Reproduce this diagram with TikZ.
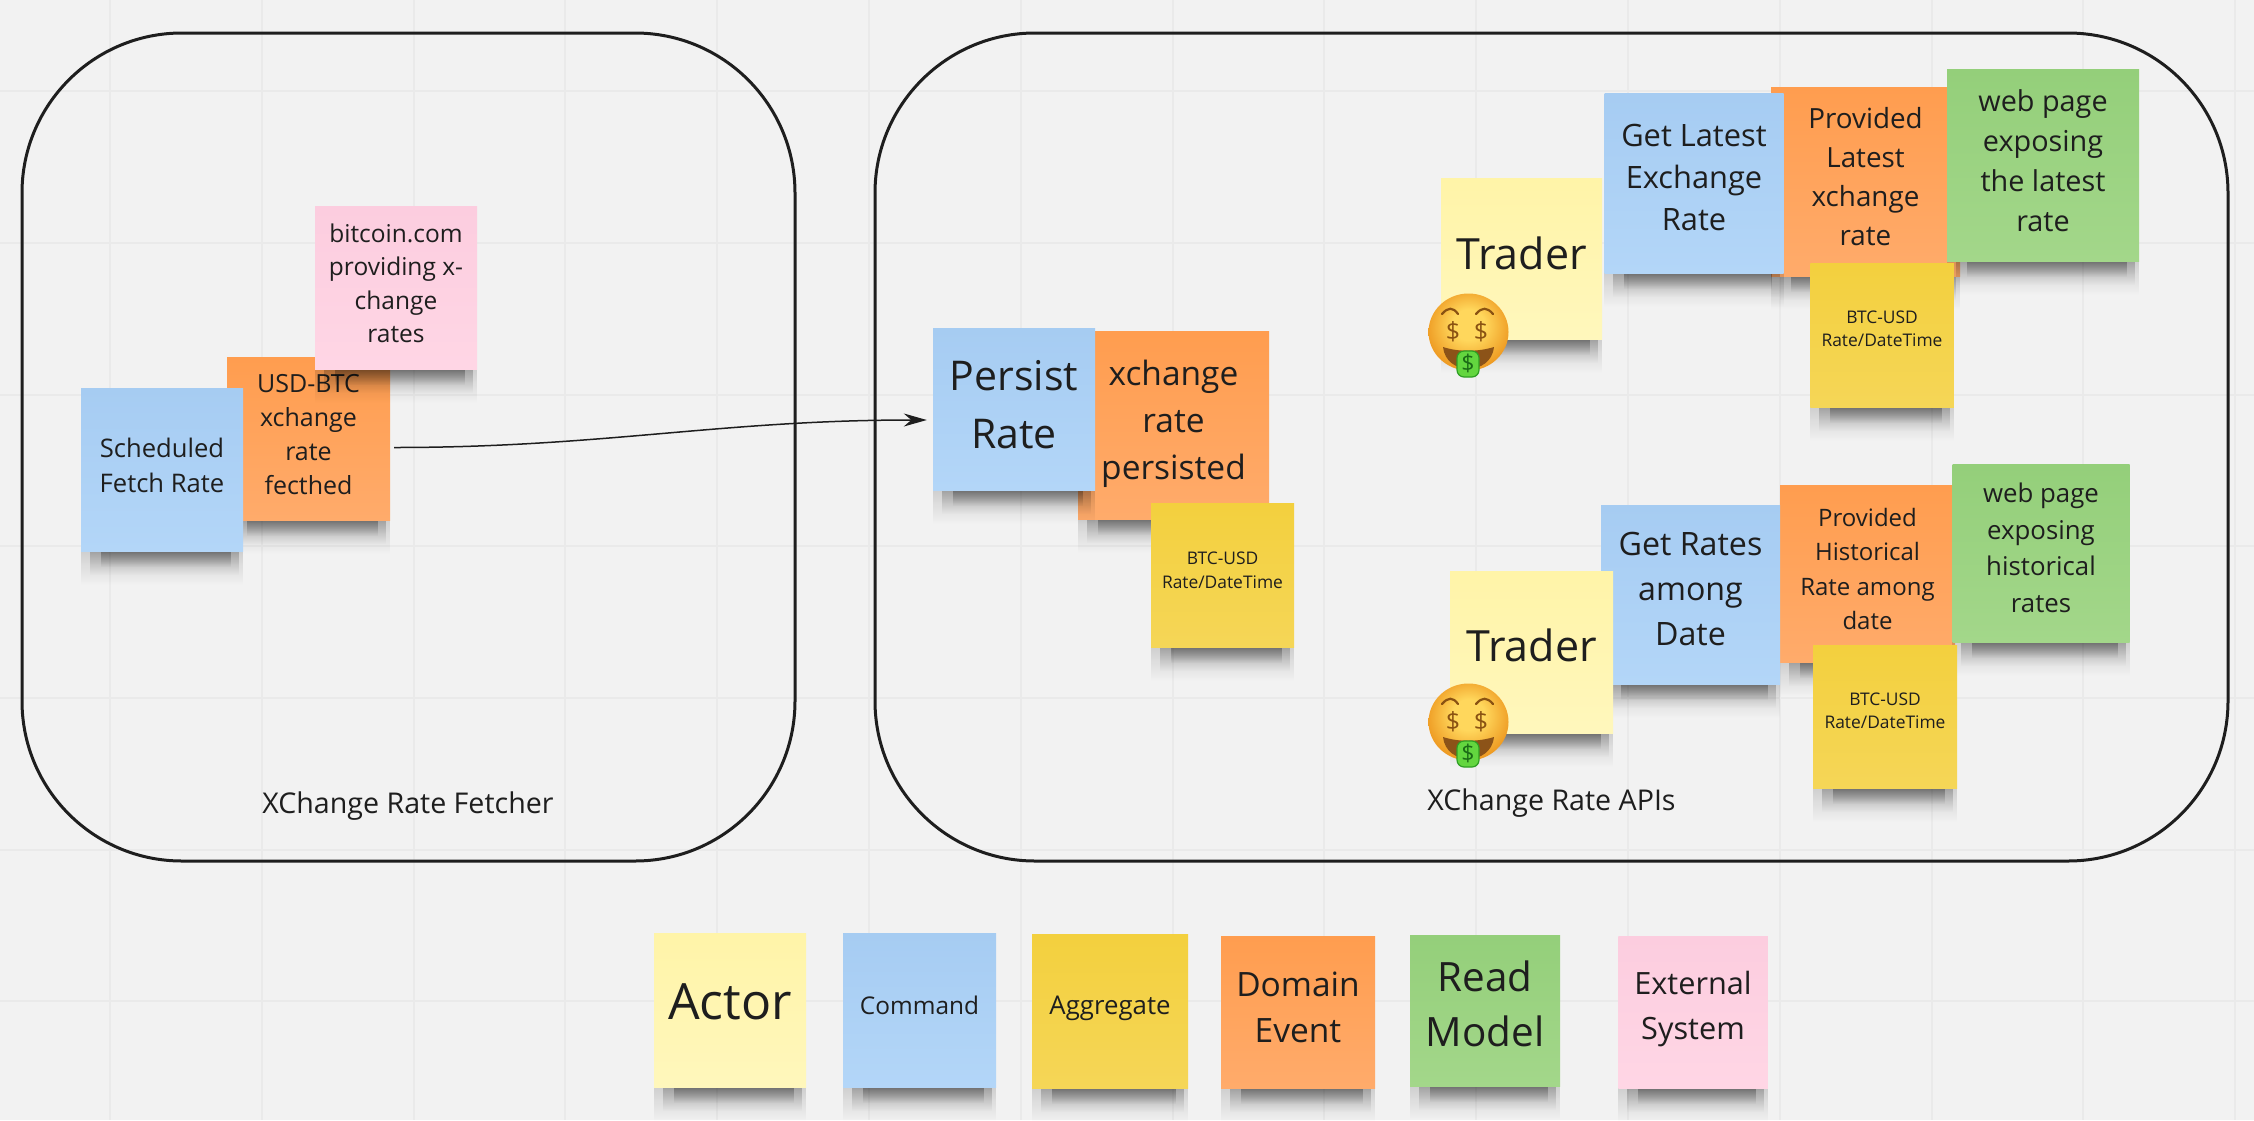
\documentclass[tikz,border=0pt]{standalone}
\usepackage{fontspec}
\setmainfont{Open Sans}
\usetikzlibrary{fadings,arrows.meta}
\definecolor{boardbg}{HTML}{F2F2F2}
\definecolor{boardgrid}{HTML}{EAEAEA}
\definecolor{inkdark}{HTML}{1E1E1E}
\definecolor{actorTop}{HTML}{FFF4A8}
\definecolor{actorBot}{HTML}{FFF7BC}
\definecolor{commandTop}{HTML}{A6CCF2}
\definecolor{commandBot}{HTML}{B3D6F8}
\definecolor{storeTop}{HTML}{F3D03E}
\definecolor{storeBot}{HTML}{F5D657}
\definecolor{eventTop}{HTML}{FF9D4F}
\definecolor{eventBot}{HTML}{FFAB6B}
\definecolor{modelTop}{HTML}{94CF7A}
\definecolor{modelBot}{HTML}{A3D78A}
\definecolor{externalTop}{HTML}{FCCDDF}
\definecolor{externalBot}{HTML}{FFD6E5}
\definecolor{faceLight}{HTML}{FFD75C}
\definecolor{faceDark}{HTML}{EE9A22}
\definecolor{faceInk}{HTML}{8A5212}
\definecolor{mouthInk}{HTML}{8C5318}
\definecolor{tongueFill}{HTML}{63D63F}
\definecolor{tongueEdge}{HTML}{2F9E24}
\definecolor{tongueInk}{HTML}{1B6B16}
\pgfdeclareradialshading{moneyskin}{\pgfpoint{0bp}{6bp}}{color(0bp)=(faceLight);color(10bp)=(faceLight);color(27bp)=(faceDark);color(50bp)=(faceDark)}
\tikzset{
	sheet/.style 2 args={minimum width=#1,minimum height=#2},
	fs/.style n args={3}{font=\fontsize{#1}{#2}\selectfont,text depth=#3pt},
	sticky/.style={align=center,text=inkdark,inner sep=0pt,
		append after command={\pgfextra{\let\lastsheet\tikzlastnode
			\fill[black,opacity=0.14,path fading=south] (\lastsheet.south west) rectangle ([yshift=-34pt]\lastsheet.south east);
			\fill[black,opacity=0.22,path fading=south] ([xshift=9pt]\lastsheet.south west) rectangle ([xshift=-4pt,yshift=-24pt]\lastsheet.south east);
			\fill[black,opacity=0.3,path fading=south] ([xshift=20pt]\lastsheet.south west) rectangle ([xshift=-12pt,yshift=-16pt]\lastsheet.south east);
		}}},
	actor/.style={sticky,top color=actorTop,bottom color=actorBot},
	command/.style={sticky,top color=commandTop,bottom color=commandBot},
	store/.style={sticky,top color=storeTop,bottom color=storeBot},
	event/.style={sticky,top color=eventTop,bottom color=eventBot},
	model/.style={sticky,top color=modelTop,bottom color=modelBot},
	external/.style={sticky,top color=externalTop,bottom color=externalBot},
	context/.style={draw=inkdark,line width=3pt,rounded corners=160pt},
	contextname/.style={font=\fontsize{28.6}{36}\selectfont,text=inkdark},
	moneyface/.pic={
		\shade[shading=moneyskin] (0.5,-2) ellipse (40 and 38.5);
		\draw[faceInk,line width=2.2pt,line cap=round] (-26,-20) .. controls (-20,-27) and (-15,-27) .. (-10,-20);
		\draw[faceInk,line width=2.2pt,line cap=round] (8,-20) .. controls (14,-27) and (19,-27) .. (25,-20);
		\node[text=faceInk,font=\fontsize{25}{25}\selectfont] (-left) at (-15,-2) {\$};
		\node[text=faceInk,font=\fontsize{25}{25}\selectfont] (-right) at (13,-2) {\$};
		\fill[mouthInk] (-25,13) .. controls (-10,18) and (10,18) .. (26,13) .. controls (23,42) and (-22,42) .. cycle;
		\fill[tongueFill,draw=tongueEdge,line width=1.2pt,rounded corners=7pt] (-11,17) rectangle (11,43);
		\node[text=tongueInk,font=\fontsize{23}{23}\selectfont] (-tongue) at (0,29) {\$};
	},
}
\begin{document}
\begin{tikzpicture}[x=1pt,y=-1pt]
	\fill[boardbg] (0,0) rectangle (2254,1120);
	\useasboundingbox (0,0) rectangle (2254,1120);
	\foreach \gx in {110,262,414,565,717,869,1021,1173,1324,1476,1628,1780,1932,2083,2235} \draw[boardgrid,line width=2pt] (\gx,0) -- (\gx,1120);
	\foreach \gy in {91,243,395,546,698,850,1001} \draw[boardgrid,line width=2pt] (0,\gy) -- (2254,\gy);

	\node[context,minimum width=773,minimum height=828] (fetcher) at (408.5,447) {};
	\node[context,minimum width=1353,minimum height=828] (apis) at (1551.5,447) {};
	\node[contextname] (fetcherName) at (408,806) {XChange Rate Fetcher};
	\node[contextname] (apisName) at (1551.5,803) {XChange Rate APIs};

	\node[event,sheet={163}{163},fs={25}{34}{8}] (fetched) at (308.5,438.5) {USD-BTC\\xchange\\rate\\fecthed};
	\node[command,sheet={162}{163},fs={25.6}{35}{9}] (schedule) at (162,469.5) {Scheduled\\Fetch Rate};
	\node[external,sheet={162}{163},fs={24.5}{33.5}{9}] (bitcoin) at (396,287.5) {bitcoin.com\\providing x-\\change\\rates};

	\node[event,sheet={191}{188},fs={33.5}{47}{11}] (persisted) at (1173.5,425) {xchange\\rate\\persisted};
	\node[command,sheet={162}{162},fs={41}{58}{10}] (persist) at (1014,409) {Persist\\Rate};
	\node[store,sheet={143}{144},fs={17.4}{24}{9}] (storePersist) at (1222.5,575) {BTC-USD\\Rate/DateTime};
	\draw[-{Stealth[length=23pt,width=13pt]},line width=1.5pt,inkdark,shorten <=4pt,shorten >=6pt] ([yshift=-9pt]fetched.east) to[out=0,in=180] ([yshift=-11pt]persist.west);

	\node[event,sheet={189}{189},fs={27.8}{39}{11}] (providedLatest) at (1865.5,181.5) {Provided\\Latest\\xchange\\rate};
	\node[command,sheet={179}{180},fs={30.8}{42}{11}] (getLatest) at (1694,183) {Get Latest\\Exchange\\Rate};
	\node[model,sheet={192}{192},fs={28.8}{40}{9}] (pageLatest) at (2043,165) {web page\\exposing\\the latest\\rate};
	\node[store,sheet={143.5}{144},fs={17.4}{23}{12}] (storeLatest) at (1882,335) {BTC-USD\\Rate/DateTime};
	\node[actor,sheet={161}{161},fs={43}{50}{11}] (traderA) at (1521.5,258.5) {Trader};
	\pic (moneyA) at (1468,334) {moneyface};

	\node[event,sheet={175}{177},fs={24}{34.5}{9}] (providedRates) at (1867.5,573.5) {Provided\\Historical\\Rate among\\date};
	\node[command,sheet={179}{179},fs={32.2}{45}{11}] (getRates) at (1690.5,594.5) {Get Rates\\among\\Date};
	\node[model,sheet={177}{178},fs={25.8}{36.5}{11}] (pageRates) at (2041,553) {web page\\exposing\\historical\\rates};
	\node[store,sheet={144}{143},fs={17.4}{23}{12}] (storeRates) at (1885,716.5) {BTC-USD\\Rate/DateTime};
	\node[actor,sheet={163}{162},fs={43}{50}{14}] (traderB) at (1531.5,652) {Trader};
	\pic (moneyB) at (1468,724) {moneyface};

	\node[actor,sheet={152}{154},fs={50}{60}{17}] (legendActor) at (730,1010) {Actor};
	\node[command,sheet={153}{154},fs={24.4}{33}{9}] (legendCommand) at (919.5,1010) {Command};
	\node[store,sheet={156}{154},fs={25.8}{35}{12}] (legendStore) at (1110,1011) {Aggregate};
	\node[event,sheet={154}{152},fs={33.5}{46}{9}] (legendEvent) at (1298,1012) {Domain\\Event};
	\node[model,sheet={150}{151},fs={40.4}{55}{14}] (legendModel) at (1485,1010.5) {Read\\Model};
	\node[external,sheet={149.5}{152},fs={30.7}{45}{13}] (legendExternal) at (1693,1012) {External\\System};
\end{tikzpicture}
\end{document}
